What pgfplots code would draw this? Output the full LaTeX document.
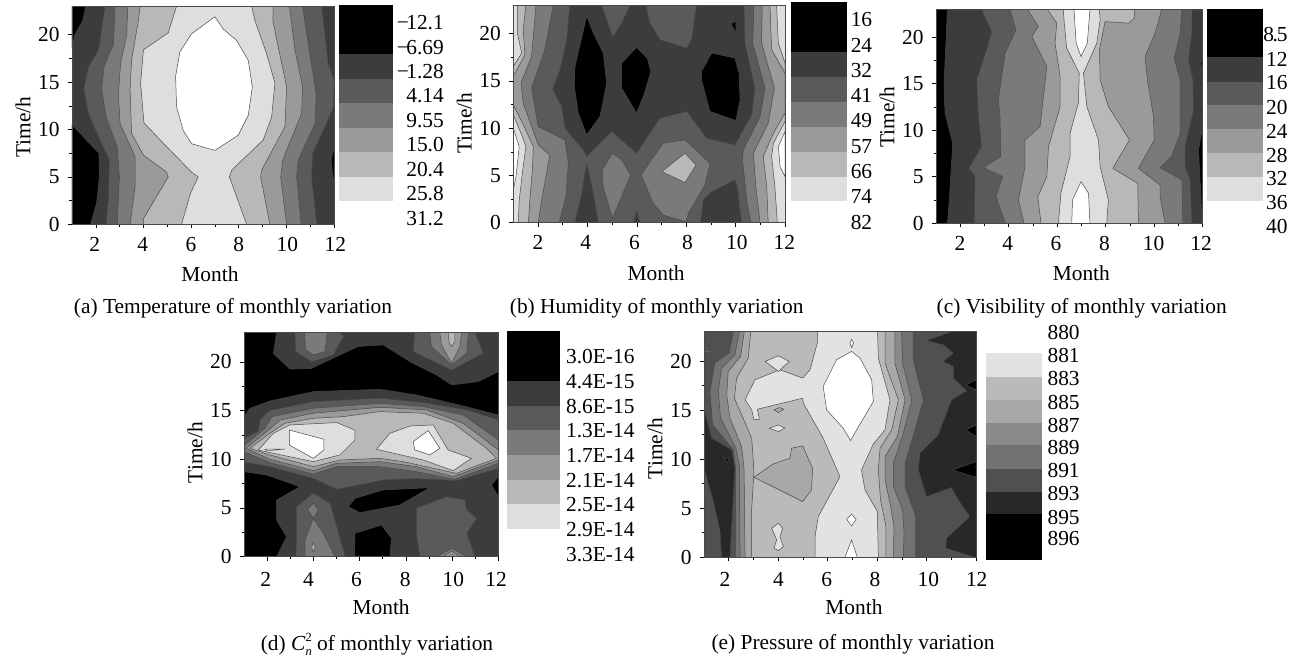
\documentclass[border=0pt]{standalone}
\usepackage{fontspec}
\setmainfont{Liberation Serif}
\usepackage{pgfplots}
\pgfplotsset{compat=1.18}
\definecolor{k0}{HTML}{000000}
\definecolor{k1}{HTML}{3C3C3C}
\definecolor{k2}{HTML}{5A5A5A}
\definecolor{k3}{HTML}{7A7A7A}
\definecolor{k4}{HTML}{9A9A9A}
\definecolor{k5}{HTML}{B8B8B8}
\definecolor{k6}{HTML}{DEDEDE}
\definecolor{k7}{HTML}{FFFFFF}
\definecolor{e1}{HTML}{282828}
\definecolor{e2}{HTML}{505050}
\definecolor{e3}{HTML}{727272}
\definecolor{e4}{HTML}{8A8A8A}
\definecolor{e5}{HTML}{A8A8A8}
\definecolor{e6}{HTML}{BABABA}
\definecolor{e7}{HTML}{E2E2E2}
\definecolor{cl}{HTML}{4A4A4A}
\newcommand\myfont{\fontsize{21.4}{24}\selectfont}
\newcommand\sub{\fontsize{12.5}{13}\selectfont}
\newcommand\reg[2]{\addplot[fill=#1,draw=cl,line width=0.5pt] coordinates {#2} -- cycle;}
\newcommand\band[3]{\addplot[fill=#1,draw=none] coordinates {(0,#2)(1,#2)(1,#3)(0,#3)} -- cycle;}
\newcommand\xs[2]{\hspace*{#1pt}\makebox[0pt]{#2}\hspace*{-#1pt}}
\newcommand\mn{−\kern-0.12em }
\pgfplotsset{
  panel/.style n args={6}{
    at={(#1pt,#2pt)},anchor=south west,width=#3pt,height=#4pt,scale only axis,
    xmin=1,xmax=12,ymin=0,ymax=23,
    xtick={2,4,6,8,10,12},ytick={0,5,10,15,20},yticklabels={0,5,10,15,20},
    minor x tick num=1,minor y tick num=1,
    tick align=outside,xtick pos=bottom,ytick pos=left,
    major tick length=4pt,minor tick length=2.5pt,
    tick style={black,line width=0.6pt},
    axis line style={draw=cl,line width=0.9pt},
    axis on top,
    xticklabel style={anchor=center,yshift=-16pt},
    yticklabel style={anchor=east,xshift=-5pt},
    xlabel={Month},ylabel={Time/h},
    every axis x label/.style={at={(axis description cs:0.5,0)},anchor=center,xshift=#5pt,yshift=-50pt},
    every axis y label/.style={at={(axis description cs:0,0.5)},anchor=center,xshift=-49pt,yshift=#6pt,rotate=90},
  },
  cbar/.style n args={6}{
    at={(#1pt,#2pt)},anchor=south west,width=#3pt,height=#4pt,scale only axis,
    xmin=0,xmax=1,ymin=#5,ymax=#6,y dir=reverse,axis on top,
    hide x axis,axis y line*=right,y axis line style={draw=none},
    major tick length=0pt,xtick=\empty,clip=false,
  },
}
\begin{document}
\begin{tikzpicture}[x=1pt,y=1pt,font=\myfont]
\path[use as bounding box] (0,0) rectangle (1302,657);

% ---------- (a) Temperature
\begin{axis}[panel={72}{432.7}{262}{218}{7}{-12},
  xticklabels={\xs{-1}{2},\xs{-0.7}{4},6,8,\xs{1}{10},\xs{1.3}{12}}]
\reg{k1}{(1,0)(12,0)(12,23)(1,23)}
\reg{k0}{(1,0)(1.78,0)(2.03,2.2)(2.15,5)(2.13,7.5)(1.6,8.9)(1,10.5)}
\reg{k0}{(1,18.7)(1.12,20)(1.45,21.5)(1.58,23)(1,23)}
\reg{k0}{(12,8.2)(11.88,6.8)(11.95,5)(12,4.6)}
\reg{k2}{(2.43,0)(2.53,2.6)(2.57,6.8)(2.18,8.9)(1.69,11.7)(1.5,14.3)(1.69,16.6)(2.12,18.4)(2.39,23)(11.48,23)(11.62,20)(11.75,17)(12,15.2)(11.97,12.4)(11.62,10.3)(11.1,7.5)(11.06,5)(11.27,0)}
\reg{k3}{(2.9,0)(2.99,5)(2.9,8.2)(2.43,11.3)(2.25,14.2)(2.34,16.6)(2.74,19)(2.81,23)(10.68,23)(11,17.7)(11.25,13.8)(11.2,10.6)(10.5,6.8)(10.43,5)(10.62,0)}
\reg{k4}{(3.44,0)(3.65,4)(3.65,7.1)(3.02,10.6)(2.95,13.8)(3.04,17)(3.3,20)(3.34,23)(10.13,23)(10.36,18.4)(10.68,14.5)(10.64,11.7)(9.85,6.8)(9.76,5)(10.01,0)}
\reg{k5}{(4,0)(4,0.6)(5.04,5)(4.97,5.5)(4,7.3)(3.5,9.6)(3.44,14.2)(3.5,17.3)(3.79,21.5)(3.86,23)(9.45,23)(9.43,21.5)(9.66,18.7)(10.01,14.5)(9.94,10.3)(8.96,5.7)(8.92,5)(9.31,0)}
\reg{k6}{(5.6,0)(5.98,3.3)(6.3,5)(6.02,5.5)(4.97,8.2)(4.02,10.7)(3.88,14.9)(4,18.4)(5.04,20.2)(5.39,23)(8.54,23)(8.68,21.5)(9.17,18)(9.52,14.9)(9.38,11.3)(9.03,8.9)(7.7,5.7)(7.61,5)(8.33,0)}
\reg{k7}{(7,21.9)(6.02,20.1)(5.53,18.2)(5.35,15.6)(5.39,12.4)(5.67,9.9)(6.02,8.5)(7,7.8)(7.98,9.4)(8.4,11.5)(8.57,14.5)(8.4,17.3)(7.91,19.4)(7.35,20.6)}
\end{axis}
\begin{axis}[cbar={339.3}{430}{54}{222}{5}{227},
  ytick={22.7,47.1,71.5,95.9,120.4,144.8,169.2,193.6,218.3},
  yticklabels={\mn 12.1,\mn 6.69,\mn 1.28,4.14,9.55,15.0,20.4,25.8,31.2},
  yticklabel style={anchor=east,xshift=54pt}]
\band{k0}{5}{54}\band{k1}{54}{78.7}\band{k2}{78.7}{103.3}\band{k3}{103.3}{127.7}\band{k4}{127.7}{152}\band{k5}{152}{176.7}\band{k6}{176.7}{201.3}
\end{axis}

% ---------- (b) Humidity
\begin{axis}[panel={513.3}{434.3}{271.7}{217.4}{7}{-9},
  xticklabels={2,\xs{-1.7}{4},\xs{-2.3}{6},\xs{1.3}{8},\xs{1.3}{10},\xs{-0.7}{12}}]
\reg{k6}{(1,0)(12,0)(12,23)(1,23)}
\reg{k7}{(1,10)(1.24,8.06)(1.11,4.88)(1,3.46)}
\reg{k7}{(12,9.65)(11.73,8.06)(11.8,5.94)(12,4.88)}
\reg{k5}{(1.2,0)(1.24,2.4)(1.4,5.94)(1.51,8.06)(1.34,9.29)(1,11.41)(1,16.54)(1.34,17.95)(1.16,20.07)(1.16,23)(11.66,23)(11.73,19.01)(12,16.89)(12,10.71)(11.53,8.41)(11.46,7)(11.59,3.82)(11.69,0)}
\reg{k4}{(1.61,0)(1.67,2.4)(1.78,5.94)(1.81,8.06)(1.47,10)(1,12.47)(1,15.48)(1.47,17.77)(1.4,20.42)(1.51,23)(11.39,23)(11.46,18.3)(12,15.83)(12,11.59)(11.53,9.47)(11.12,7)(11.26,3.82)(11.32,0)}
\reg{k3}{(2.01,0)(2.15,2.4)(2.48,7.17)(2.01,8.23)(1.4,12.65)(1.31,14.77)(1.74,17.6)(1.92,23)(11.08,23)(11.05,19.01)(11.57,14.24)(11.32,10.53)(10.72,7.35)(10.82,3.82)(10.99,0)}
\reg{k2}{(2.86,0)(3.13,2.76)(3.23,6.29)(3.09,8.76)(2.69,9.29)(2.01,10.18)(1.74,14.24)(2.28,18.3)(2.62,23)(10.74,23)(10.69,19.01)(11.19,14.24)(10.99,11.24)(10.31,7.7)(10.28,6.64)(10.45,2.4)(10.61,0)}
\reg{k1}{(3.29,23)(4.58,23)(5.02,19.65)(5.39,21.13)(5.72,23)(6.37,23)(6.53,21.13)(6.94,19.36)(8.02,18.48)(8.22,19.36)(8.42,23)(10.34,23)(10.38,19.01)(10.78,14.24)(10.65,11.41)(9.97,8.23)(8.83,8.94)(8.02,11.77)(6.94,11.06)(5.99,7.35)(4.98,9.65)(3.97,7)(3.83,7.7)(3.09,10)(2.96,12.3)(2.59,14.13)(2.89,16.18)(3.16,19.36)}
\reg{k1}{(3.5,0)(3.77,3.11)(3.97,6.29)(4.24,3.11)(4.44,0)}
\reg{k1}{(5.86,0)(5.99,1.27)(6.13,0)}
\reg{k1}{(8.58,0)(8.69,2.4)(9.03,3.29)(9.97,4.52)(10.07,3.82)(10.24,0)}
\reg{k0}{(3.97,21.84)(3.5,16.54)(3.47,14.42)(3.63,11.59)(3.97,9.29)(4.51,11.24)(4.78,14.77)(4.64,17.95)(4.24,20.07)}
\reg{k0}{(5.99,18.55)(5.39,16.89)(5.39,14.24)(5.99,11.59)(6.29,13.53)(6.57,16.01)(6.42,17.42)}
\reg{k0}{(9.03,17.95)(8.62,16.01)(8.62,15.12)(8.96,11.77)(10.01,10.81)(10.18,13)(10.14,15.83)(9.97,17.42)}
\reg{k0}{(10.01,21.31)(9.81,21.06)(10.01,20.07)}
\reg{k3}{(5.01,7.35)(4.6,5.58)(4.64,3.82)(5.01,0.46)(5.75,5.05)(5.39,6.64)}
\reg{k3}{(6.17,5.05)(6.67,2.05)(7.07,0.81)(7.99,0.1)(8.09,1)(8.76,3.99)(8.96,6.29)(7.95,8.76)(7.07,8.41)}
\reg{k5}{(7.95,7.35)(7.01,5.41)(7.95,4.24)(8.4,6.11)}
\end{axis}
\begin{axis}[cbar={790.7}{430}{56}{225}{5}{230},
  ytick={22.7,48,73.3,98.6,123.9,149.2,174.5,199.8,225},
  yticklabels={16,24,32,41,49,57,66,74,82},
  yticklabel style={anchor=east,xshift=29pt}]
\band{k0}{5.3}{55}\band{k1}{55}{80}\band{k2}{80}{105}\band{k3}{105}{130}\band{k4}{130}{155}\band{k5}{155}{180}\band{k6}{180}{204}
\end{axis}

% ---------- (c) Visibility
\begin{axis}[panel={936}{433.7}{266.7}{214}{12}{-1},
  xticklabels={\xs{-0.3}{2},\xs{-1}{4},\xs{-1.3}{6},\xs{-1.3}{8},\xs{-0.7}{10},\xs{-1.7}{12}}]
\reg{k1}{(1,0)(12,0)(12,23)(1,23)}
\reg{k0}{(1,0)(1.47,0)(1.55,2.51)(1.69,8.6)(1.37,11.83)(1.33,15.05)(1.47,23)(1,23)}
\reg{k0}{(11.98,0)(11.83,7.9)(12,10.4)(12,0)}
\reg{k0}{(12,17.9)(11.92,17.2)(12,16.3)}
\reg{k2}{(2.58,0)(2.61,5.02)(2.36,5.91)(2.88,8.24)(2.75,11.47)(2.68,15.41)(3.09,18.64)(3.3,20.61)(2.88,23)(11.55,23)(11.55,20.43)(11.41,17.56)(11.59,15.41)(11.62,12.19)(11.27,8.24)(11.27,6.09)(11.48,4.66)(11.55,0)}
\reg{k3}{(3.85,0)(3.48,2.87)(3.75,5.02)(2.95,5.99)(3.67,7.17)(3.64,11.47)(3.57,13.26)(3.85,18.28)(4.3,20.79)(4.05,23)(11.14,23)(11.07,20.43)(10.82,17.74)(11.07,15.41)(11.07,9.68)(10.72,7.17)(10.24,5.99)(11.14,4.66)(11.18,0)}
\reg{k4}{(4.63,0)(4.4,2.51)(4.67,6.09)(4.67,8.96)(5.29,10.39)(5.57,16.85)(4.95,20.07)(5.22,21.15)(4.77,23)(10.31,23)(10.04,20.43)(9.62,17.92)(9.72,15.41)(9.97,11.47)(10,8.96)(9.35,5.91)(10.24,4.12)(10.24,2.87)(10.45,0)}
\reg{k5}{(5.33,0)(5.2,2.87)(5.57,5.02)(5.64,8.24)(6.12,12.54)(6.12,15.77)(5.91,19.36)(5.98,21.51)(5.59,23)(9.18,23)(9.18,22.04)(8.94,21.51)(7.97,21.68)(7.74,18.64)(7.77,15.41)(8.11,12.54)(8.98,8.96)(8.29,5.91)(9.32,4.3)(9.35,0)}
\reg{k6}{(6.05,0)(6.15,3.23)(6.53,7.17)(6.53,9.68)(6.87,12.9)(6.91,16.13)(6.39,18.82)(6.29,21.51)(6.25,23)(7.74,23)(7.77,21.86)(7.63,19.36)(7.08,16.13)(7.22,12.54)(7.7,8.96)(7.77,6.09)(8.11,2.51)(8.04,0)}
\reg{k7}{(6.6,0)(6.63,2.51)(6.98,4.48)(7.29,3.23)(7.35,0)}
\reg{k7}{(6.69,23)(6.78,19.36)(6.98,17.92)(7.24,19.36)(7.35,23)}
\end{axis}
\begin{axis}[cbar={1206.7}{427}{56}{225}{5}{230},
  ytick={35,59,83,107,131,155,179,203,226.7},
  yticklabels={8\kern-0.06em.\kern-0.06em 5,12,16,20,24,28,32,36,40},
  yticklabel style={anchor=east,xshift=28.3pt}]
\band{k0}{9.3}{57.3}\band{k1}{57.3}{81.7}\band{k2}{81.7}{105.3}\band{k3}{105.3}{129.3}\band{k4}{129.3}{153}\band{k5}{153}{177}\band{k6}{177}{201}
\end{axis}

% ---------- (d) Cn2
\begin{axis}[panel={244}{100.3}{254.3}{224}{10}{-8},
  xticklabel style={yshift=-2.5pt},
  xticklabels={\xs{-1.3}{2},\xs{-5}{4},\xs{-3}{6},\xs{-0.7}{8},\xs{1.3}{10},\xs{-2.3}{12}}]
\reg{k1}{(1,0)(12,0)(12,23)(1,23)}
\reg{k0}{(1,23)(2.41,23)(2.27,20.89)(2.99,19.25)(3.93,19.35)(5.15,20.72)(5.94,21.58)(7.02,21.75)(8.18,20.03)(9.33,18.66)(9.98,17.64)(11.13,17.98)(12,19)(12,14.55)(10.48,15.48)(8.46,16.61)(6.88,17.19)(4,16.95)(2.12,15.99)(1.26,15.24)(1,14.38)}
\reg{k0}{(1,8.73)(1.98,8.39)(3.42,7.19)(2.41,5.82)(2.41,3.77)(2.84,2.05)(2.41,0)(1,0)}
\reg{k0}{(5.51,5.14)(5.8,5.99)(7.02,6.85)(9.04,7.09)(7.74,5.31)(6.01,4.52)}
\reg{k0}{(5.77,0)(5.8,2.4)(6.95,3.25)(7.38,1.88)(7.31,0)}
\reg{k0}{(12,8.22)(11.71,7.36)(12,6.16)}
\reg{k2}{(3.2,23)(3.25,21.06)(3.93,20.03)(4.86,20.72)(5.29,22.6)(5.15,23)}
\reg{k3}{(3.61,23)(3.68,21.23)(4,20.72)(4.5,21.06)(4.6,23)}
\reg{k2}{(8.39,23)(8.32,21.06)(9.98,19.18)(11.35,20.89)(10.99,23)}
\reg{k3}{(9.04,23)(9.11,21.58)(9.98,19.69)(10.63,20.89)(10.7,23)}
\reg{k4}{(9.47,23)(9.54,21.75)(9.98,19.86)(10.34,21.58)(10.41,23)}
\reg{k5}{(9.83,23)(9.88,21.92)(9.98,21.58)(10.12,22.09)(10.12,23)}
\reg{k2}{(1,12.16)(1.62,12.84)(1.69,14.04)(2.12,15)(4,15.92)(6.88,16.27)(8.75,15.82)(10.63,15.07)(12,14.04)(12,9.08)(10.19,7.81)(8.46,8.05)(7.02,7.88)(5.01,6.92)(4,8.05)(2.12,9.25)(1,9.76)}
\reg{k3}{(1,11.4)(1.91,13.18)(2.2,14.38)(4,15.24)(6.88,15.75)(8.75,15.41)(10.48,14.55)(12,11.99)(12,9.59)(10.12,7.95)(8.46,8.73)(6.88,9.25)(5.01,9.25)(4,8.49)(2.12,9.66)(1,10.79)}
\reg{k4}{(1.09,11.13)(1.98,12.84)(2.56,14.04)(4,14.73)(6.88,15.34)(8.9,15.07)(10.48,13.7)(12,10.96)(12,9.93)(10.05,8.22)(8.46,9.25)(6.88,9.76)(5.01,9.59)(4,8.84)(2.12,10)}
\reg{k5}{(1.26,11.13)(2.12,12.67)(2.77,13.7)(4,14.21)(5.29,14.38)(6.88,14.9)(8.75,14.73)(10.05,13.7)(11.49,11.13)(11.92,10.1)(10.19,8.56)(7.89,9.76)(6.88,10.1)(5.15,9.93)(4,9.25)(2.12,10.45)}
\reg{k6}{(1.62,10.96)(2.27,12.67)(2.99,13.53)(5.01,13.77)(5.8,13.01)(5.8,11.99)(5.15,10.45)(4,9.76)(2.27,10.62)}
\reg{k6}{(6.73,11.03)(7.31,12.67)(8.18,13.42)(9.18,13.53)(9.83,10.96)(10.84,10.1)(10.05,8.84)(8.75,9.93)}
\reg{k7}{(2.96,13.01)(4.46,12.05)(4.46,10.96)(4,10.1)(2.96,11.47)}
\reg{k7}{(1.91,11.03)(2.77,11.06)(1.98,10.86)}
\reg{k7}{(8.97,12.95)(8.32,11.82)(8.39,10.96)(9.04,10.45)(9.47,11.13)}
\reg{k2}{(4,6.51)(4.72,5.48)(5.01,3.08)(5.37,0)(3.25,0)(3.28,2.4)(3.28,5.14)}
\reg{k3}{(4,3.94)(3.64,1.71)(3.64,0)(4.93,0)(4.43,2.4)}
\reg{k3}{(4,5.48)(3.75,4.86)(4,3.94)(4.21,4.79)}
\reg{k5}{(4,1.44)(3.93,0.96)(4,0.51)(4.07,0.96)}
\reg{k2}{(8.46,4.97)(9.76,6.16)(10.55,5.82)(10.63,4.79)(11.06,3.94)(10.63,2.4)(10.99,0)(8.61,0)(8.46,2.4)}
\reg{k3}{(9.33,0)(9.98,0.86)(10.63,0)}
\reg{k4}{(9.62,0)(9.98,0.58)(10.34,0)}
\reg{k5}{(9.83,0)(9.98,0.27)(10.12,0)}
\reg{k3}{(8.97,1.03)(9.18,0.96)(9.04,0.86)}
\end{axis}
\begin{axis}[cbar={507.3}{95}{52.7}{235}{327}{562},
  ytick={356.7,381.4,406.1,430.8,455.5,480.2,504.9,529.6,554.3},
  yticklabels={3.0E-16,4.4E-15,8.6E-15,1.3E-14,1.7E-14,2.1E-14,2.5E-14,2.9E-14,3.3E-14},
  yticklabel style={anchor=east,xshift=78pt}]
\band{k0}{331.3}{380.7}\band{k1}{380.7}{405.7}\band{k2}{405.7}{430.3}\band{k3}{430.3}{455}\band{k4}{455}{479.7}\band{k5}{479.7}{504.3}\band{k6}{504.3}{529}
\end{axis}

% ---------- (e) Pressure
\begin{axis}[panel={704}{99.7}{272}{225.6}{14}{-4},
  xticklabel style={yshift=-2.5pt},
  xticklabels={\xs{-3.7}{2},\xs{0.3}{4},\xs{-1}{6},\xs{-2}{8},\xs{1.7}{10},\xs{0.7}{12}}]
\reg{e2}{(1,0)(12,0)(12,23)(1,23)}
\reg{e1}{(1,15.2)(1.31,12.14)(2.12,10.95)(2.25,9.08)(2.05,0)(1.71,0)(1.65,2.62)(1.38,5.68)(1,9.08)}
\reg{e1}{(11.01,23)(9.98,22.1)(10.68,21.67)(11.08,20.82)(10.68,19.97)(11.08,19.46)(11.08,18.27)(11.62,16.97)(11.01,16.05)(10.47,12.48)(9.73,10.61)(9.67,8.91)(10,6.19)(11.01,7.11)(11.28,5.85)(11.75,4.15)(10.81,1.94)(10.78,0.92)(11.96,0)(12,0)(12,23)}
\reg{k0}{(12,18.1)(11.59,17.58)(12,17.07)}
\reg{k0}{(12,13.5)(11.59,12.99)(12,12.31)}
\reg{k0}{(12,9.76)(11.05,8.91)(12,8.16)}
\reg{k0}{(1.78,10.2)(2.02,10)(1.95,9.7)}
\reg{e3}{(1,21.1)(1.85,21.1)(1,20.9)}
\reg{e3}{(2.19,23)(2.02,20.82)(1.44,19.8)(1.24,16.9)(1.35,13.5)(2.19,10.95)(2.28,9.08)(2.28,0)(9.56,0)(9.56,4.15)(9.13,7.21)(9.13,9.59)(9.49,12.65)(9.87,16.05)(9.46,20.14)(9.46,23)}
\reg{e4}{(2.43,23)(2.25,20.65)(1.71,19.29)(1.58,16.9)(1.67,14.18)(2.29,11.12)(2.43,9.42)(2.46,0)(9.06,0)(9.09,2.45)(9.03,4.83)(8.66,7.21)(8.66,9.59)(9.06,12.65)(9.4,16.05)(9.03,19.8)(8.99,23)}
\reg{e5}{(2.63,23)(2.48,20.48)(1.98,18.95)(1.92,16.56)(2.05,14.18)(2.52,11.29)(2.62,9.08)(2.66,0)(8.66,0)(8.68,3.13)(8.55,5.17)(8.32,7.89)(8.32,10.27)(8.82,12.31)(9.13,16.05)(8.72,19.8)(8.72,23)}
\reg{e6}{(2.89,23)(2.79,20.31)(2.32,18.27)(2.23,16.22)(2.93,12.14)(3.02,8.74)(2.93,5)(2.93,0)(8.36,0)(8.36,3.13)(8.14,5.85)(8.05,8.91)(8.12,11.12)(8.59,12.99)(8.86,16.05)(8.32,19.8)(8.32,23)}
\reg{e7}{(5.58,23)(5.58,21.84)(5.29,19.12)(4.99,18.27)(4.07,19.12)(3.06,18.1)(2.86,17.07)(2.66,16.05)(2.93,15.03)(3.02,14.01)(3.24,14.08)(3.16,15.1)(4.99,16.22)(5.02,15.71)(5.82,12.14)(6.5,8.23)(5.62,4.15)(5.49,2.11)(5.49,0)(8.05,0)(8.01,4.66)(7.51,6.87)(7.37,8.91)(7.85,11.56)(8.32,12.99)(8.52,16.05)(8.05,20.31)(8.02,23)}
\reg{e7}{(4.01,20.54)(3.47,19.97)(4.01,18.95)(4.45,19.97)}
\reg{e7}{(4.01,3.47)(3.74,2.96)(3.94,1.77)(3.83,0.92)(4.01,0.68)(4.21,1.09)(4.07,2.11)(4.18,2.96)}
\reg{e7}{(4.01,13.5)(3.64,13.16)(4.01,12.82)(4.27,13.16)}
\reg{e5}{(3.83,15.03)(4.05,15.27)(4.23,15.1)(4.01,14.76)}
\reg{e5}{(3.02,8.16)(3.8,9.52)(4.48,10.1)(4.54,11.12)(4.99,11.36)(5.39,9.08)(5.35,6.87)(4.99,5.68)}
\reg{k7}{(6.97,20.99)(6.36,20.14)(5.82,17.41)(5.96,15.03)(6.63,13.16)(6.93,11.9)(7.17,12.99)(7.85,15.88)(7.78,18.1)(7.31,20.31)}
\reg{k7}{(6.97,22.24)(6.9,21.84)(6.97,21.39)(7.05,21.84)}
\reg{k7}{(6.97,4.42)(6.77,3.88)(6.97,3.2)(7.15,3.88)}
\reg{k7}{(6.97,1.77)(6.7,0)(7.2,0)}
\end{axis}
\begin{axis}[cbar={985.7}{95}{56}{237}{325}{562},
  ytick={332,355,378,402,425,447,470,493,517,538},
  yticklabels={880,881,883,885,887,889,891,893,895,896},
  yticklabel style={anchor=east,xshift=41.5pt}]
\band{e7}{353.3}{376.7}\band{e6}{376.7}{400}\band{e5}{400}{422.7}\band{e4}{422.7}{445.3}\band{e3}{445.3}{468.7}\band{e2}{468.7}{491.7}\band{e1}{491.7}{514.3}\band{k0}{514.3}{560}
\end{axis}

% ---------- captions
\node at (233,349) {(a) Temperature of monthly variation};
\node at (656.7,349) {(b) Humidity of monthly variation};
\node at (1081.7,349) {(c) Visibility of monthly variation};
\node at (377,12.3) {(d) \textit{C}\makebox[0pt][l]{\raisebox{0.42em}{\sub 2}}\raisebox{-0.22em}{\sub\textit{n}} of monthly variation};
\node at (853,12.3) {(e) Pressure of monthly variation};
\end{tikzpicture}
\end{document}
